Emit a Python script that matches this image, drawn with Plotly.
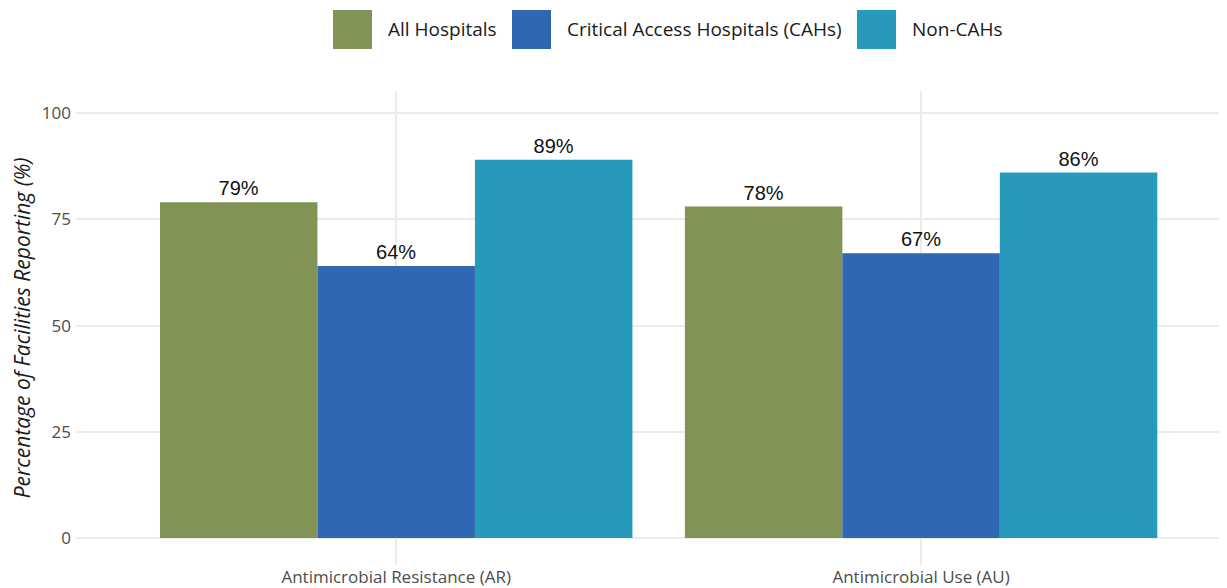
import plotly.graph_objects as go

categories = ["Antimicrobial Resistance (AR)", "Antimicrobial Use (AU)"]
series_names = ["All Hospitals", "Critical Access Hospitals (CAHs)", "Non-CAHs"]
all_hospitals = [79, 78]
cahs = [64, 67]
non_cahs = [89, 86]
y_ticks = [0, 25, 50, 75, 100]

colors = ["#829455", "#3067B2", "#2799BB"]

# page body adds an 8px offset, so figure pixels = screen pixels - 8
OFF = 8
W, H = 1227, 588
L, R, T, B = 68, 0, 83, 31


def px_x(x):
    return (x - OFF - L) / (W - L - R)


def px_y(y):
    return (H - B - (y - OFF)) / (H - T - B)


fig = go.Figure()
for name, vals, col in zip(series_names, [all_hospitals, cahs, non_cahs], colors):
    fig.add_trace(
        go.Bar(
            x=list(range(len(categories))),
            y=vals,
            name=name,
            marker=dict(color=col, line=dict(width=0)),
            text=[f"{v}%" for v in vals],
            textposition="outside",
            textfont=dict(family="Liberation Sans, Arial", size=20, color="#111111"),
            cliponaxis=False,
            showlegend=False,
        )
    )

# legend drawn as big square keys like the original
legend_left = [333, 512, 857]
shapes, annotations = [], []
for left, name, col in zip(legend_left, series_names, colors):
    shapes.append(dict(
        type="rect", xref="paper", yref="paper",
        x0=px_x(left), x1=px_x(left + 39), y0=px_y(49), y1=px_y(10),
        fillcolor=col, line=dict(width=0),
    ))
    annotations.append(dict(
        xref="paper", yref="paper", x=px_x(left + 53), y=px_y(29),
        text=name, showarrow=False, xanchor="left", yanchor="middle",
        font=dict(family="Open Sans", size=19, color="#1a1a1a"),
    ))

fig.update_layout(
    width=W, height=H,
    barmode="group",
    bargap=0.1,
    bargroupgap=0,
    margin=dict(l=L, r=R, t=T, b=B),
    paper_bgcolor="white",
    plot_bgcolor="white",
    shapes=shapes,
    annotations=annotations,
    xaxis=dict(
        tickmode="array",
        tickvals=list(range(len(categories))),
        ticktext=categories,
        range=[-0.61, 1.598],
        showgrid=True,
        gridcolor="#EBEBEB",
        gridwidth=2,
        zeroline=False,
        showline=False,
        ticks="",
        tickfont=dict(family="Open Sans", size=17, color="#4D4D4D"),
    ),
    yaxis=dict(
        range=[-6.35, 105.2],
        tickvals=y_ticks,
        showgrid=True,
        gridcolor="#EBEBEB",
        gridwidth=2,
        zeroline=False,
        showline=False,
        ticks="",
        ticklabelstandoff=4,
        tickfont=dict(family="Open Sans", size=17, color="#4D4D4D"),
        title=dict(
            text="<i>Percentage of Facilities Reporting (%)</i>",
            font=dict(family="Open Sans", size=21, color="#1a1a1a"),
            standoff=6,
        ),
    ),
)

fig.write_html("out.html")
